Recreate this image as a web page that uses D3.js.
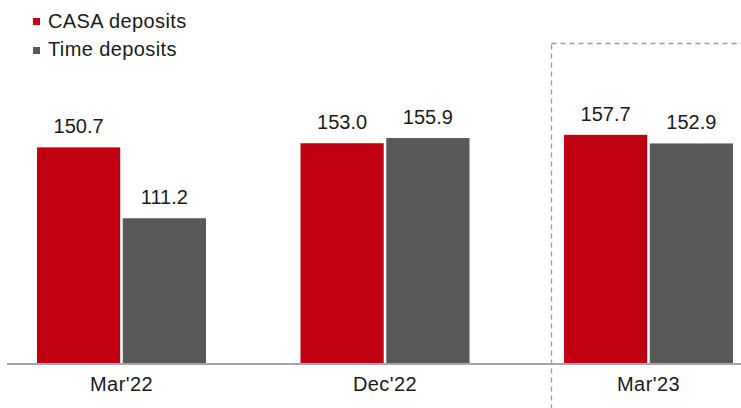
<!DOCTYPE html>
<html><head><meta charset="utf-8">
<script src="https://cdn.jsdelivr.net/npm/d3@7"></script>
<style>body{margin:0;background:#fff}svg{display:block}text{font-family:"Liberation Sans",Arial,sans-serif;fill:#1a1a1a}</style>
</head><body><svg id="c" width="741" height="408"></svg>
<script>
const categories = ["Mar'22", "Dec'22", "Mar'23"];
const seriesNames = ["CASA deposits", "Time deposits"];
const casa = [150.7, 153.0, 157.7];
const timeDep = [111.2, 155.9, 152.9];
const colors = ["#c00010", "#595959"];

const svg = d3.select("#c");
const baseY = 363;
const x0 = d3.scaleBand().domain(categories).range([-10.25, 780.25]);
const y = d3.scaleLinear().domain([30.5, 160]).range([baseY, 130.7]);
const groupW = 169;
const x1 = d3.scaleBand().domain(seriesNames).range([0, groupW]).paddingInner(0.03);

// highlight dashed box
svg.append("rect").attr("x", 551.5).attr("y", 43.5).attr("width", 260).attr("height", 400)
  .attr("fill", "none").attr("stroke", "#9a9a9a").attr("stroke-width", 1.3).attr("stroke-dasharray", "5,4");

const data = categories.map((c, i) => ({cat: c, vals: [casa[i], timeDep[i]]}));
const g = svg.selectAll("g.grp").data(data).join("g")
  .attr("transform", d => `translate(${x0(d.cat) + x0.bandwidth()/2 - groupW/2},0)`);
g.selectAll("rect").data(d => d.vals.map((v, j) => ({v, s: seriesNames[j], j}))).join("rect")
  .attr("x", d => x1(d.s)).attr("width", x1.bandwidth())
  .attr("y", d => y(d.v)).attr("height", d => baseY - y(d.v))
  .attr("fill", d => colors[d.j]);
g.selectAll("text.v").data(d => d.vals.map((v, j) => ({v, s: seriesNames[j]}))).join("text")
  .attr("class", "v").attr("text-anchor", "middle").attr("font-size", 20)
  .attr("x", d => x1(d.s) + x1.bandwidth()/2).attr("y", d => y(d.v) - 14)
  .text(d => d.v.toFixed(1));

// axis
const ax = svg.append("g").attr("transform", `translate(0,${baseY})`)
  .call(d3.axisBottom(x0).tickSize(0).tickPadding(14));
ax.select(".domain").attr("d", "M7,1H741").attr("stroke", "#a6a6a6").attr("stroke-width", 2);
ax.selectAll("text").attr("font-size", 20).attr("letter-spacing", 0.4).attr("fill", "#1a1a1a").style("font-family", '"Liberation Sans",Arial,sans-serif');

// legend
const lg = svg.append("g");
seriesNames.forEach((n, i) => {
  lg.append("rect").attr("x", 33).attr("y", 18 + i*29).attr("width", 7).attr("height", 7).attr("fill", colors[i]);
  lg.append("text").attr("x", 48).attr("y", 28 + i*28).attr("font-size", 20).attr("letter-spacing", 0.4).text(n);
});
</script></body></html>
